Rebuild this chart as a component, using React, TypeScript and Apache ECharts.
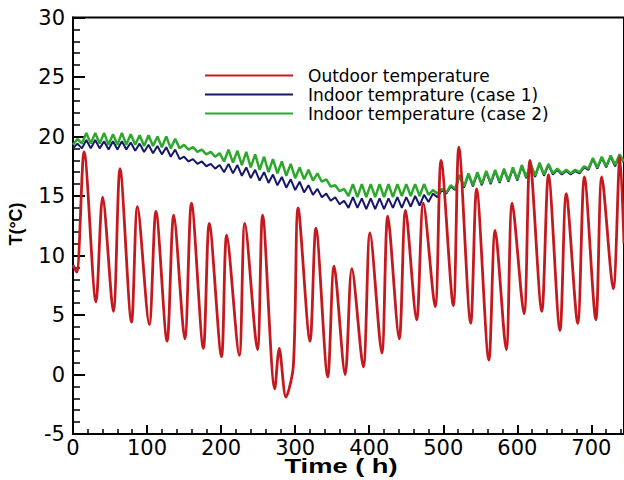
import { useEffect, useRef } from "react";
import * as echarts from "echarts";

// Outdoor temperature: daily extremes (h, °C)
const outdoorTime = [0, 5, 15, 31, 40, 54.5, 63.5, 79, 87, 103, 112, 127, 136, 151, 160, 176, 184, 200.5, 207.5, 224.5, 232, 249, 256, 272.5, 278.5, 287.5, 297.5, 304, 320, 328, 344, 352.5, 367.5, 376.5, 392, 401, 417, 425, 440.5, 449, 464, 473, 489, 497, 513.5, 521, 537, 545, 561.5, 570, 585, 593, 609, 617, 633, 642, 657.5, 666, 681.5, 690.5, 706, 714, 729.5, 738.5, 744];
const outdoorTemp = [9.2, 8.6, 18.7, 6.1, 14.9, 5.3, 17.3, 4.4, 14.1, 4.2, 13.7, 2.8, 13.4, 3.0, 14.4, 2.2, 12.7, 1.5, 11.7, 1.6, 12.7, 2.1, 13.4, -1.2, 2.2, -1.9, 0.7, 14.0, 2.8, 12.3, -0.2, 9.1, 0.0, 8.9, 0.65, 11.9, 1.8, 13.3, 3.0, 13.8, 4.6, 14.4, 5.7, 18.0, 5.8, 19.1, 4.3, 15.6, 1.2, 12.1, 2.1, 14.4, 5.1, 18.0, 5.3, 16.8, 3.7, 15.2, 4.3, 16.6, 4.6, 16.6, 7.2, 18.3, 11.0];

// Indoor temperatures, read every 6 h (h, °C)
const indoorTime = [
  0, 6, 12, 18, 24, 30, 36, 42, 48, 54, 60, 66,
  72, 78, 84, 90, 96, 102, 108, 114, 120, 126, 132, 138,
  144, 150, 156, 162, 168, 174, 180, 186, 192, 198, 204, 210,
  216, 222, 228, 234, 240, 246, 252, 258, 264, 270, 276, 282,
  288, 294, 300, 306, 312, 318, 324, 330, 336, 342, 348, 354,
  360, 366, 372, 378, 384, 390, 396, 402, 408, 414, 420, 426,
  432, 438, 444, 450, 456, 462, 468, 474, 480, 486, 492, 498,
  504, 510, 516, 522, 528, 534, 540, 546, 552, 558, 564, 570,
  576, 582, 588, 594, 600, 606, 612, 618, 624, 630, 636, 642,
  648, 654, 660, 666, 672, 678, 684, 690, 696, 702, 708, 714,
  720, 726, 732, 738, 744,
];
const case1Temp = [
  19.0, 19.4, 19.0, 19.7, 19.0, 19.7, 19.0, 19.6, 18.9, 19.6, 18.9, 19.6,
  18.9, 19.5, 18.8, 19.4, 18.7, 19.3, 18.6, 19.2, 18.5, 19.1, 18.3, 18.9,
  18.1, 18.3, 17.9, 18.1, 17.7, 17.9, 17.5, 17.7, 17.3, 17.6, 17.0, 17.7,
  16.9, 17.6, 16.7, 17.4, 16.5, 17.2, 16.3, 17.0, 16.1, 16.8, 15.9, 16.6,
  15.7, 16.4, 15.5, 16.2, 15.3, 15.9, 15.1, 15.6, 14.9, 15.2, 14.6, 14.9,
  14.3, 14.6, 14.0, 14.9, 14.0, 14.8, 13.9, 14.8, 13.9, 14.8, 13.9, 14.8,
  14.0, 14.9, 14.0, 14.9, 14.1, 15.0, 14.2, 15.1, 14.5, 15.2, 14.9, 15.5,
  15.2, 15.8, 15.5, 16.7, 15.7, 16.8, 15.8, 16.9, 15.9, 17.0, 16.0, 17.1,
  16.1, 17.2, 16.2, 17.3, 16.3, 17.5, 16.5, 17.6, 16.6, 17.7, 16.7, 17.6,
  16.8, 17.2, 16.8, 17.1, 16.8, 17.1, 16.9, 17.4, 17.2, 18.1, 17.3, 18.2,
  17.4, 18.3, 17.5, 18.4, 17.8,
];
const case2Temp = [
  19.3, 19.8, 19.4, 20.3, 19.4, 20.3, 19.4, 20.3, 19.3, 20.2, 19.3, 20.3,
  19.3, 20.2, 19.3, 20.1, 19.2, 20.1, 19.2, 20.0, 19.1, 20.0, 19.0, 19.8,
  19.0, 19.3, 18.9, 19.1, 18.7, 18.9, 18.5, 18.7, 18.3, 18.6, 17.9, 18.9,
  17.8, 18.8, 17.6, 18.7, 17.4, 18.5, 17.2, 18.3, 17.0, 18.1, 16.9, 17.9,
  16.7, 17.7, 16.5, 17.4, 16.4, 17.2, 16.3, 16.9, 16.2, 16.4, 15.8, 15.9,
  15.4, 15.6, 15.0, 16.0, 14.9, 16.0, 14.9, 16.0, 14.9, 16.0, 14.9, 16.0,
  14.9, 16.0, 15.0, 16.0, 15.0, 16.0, 15.0, 16.0, 15.1, 15.5, 15.2, 15.6,
  15.3, 15.9, 15.6, 16.8, 15.8, 16.9, 15.9, 17.0, 16.0, 17.1, 16.1, 17.2,
  16.2, 17.3, 16.3, 17.4, 16.4, 17.6, 16.6, 17.7, 16.7, 17.8, 16.8, 17.7,
  16.9, 17.3, 16.9, 17.2, 16.9, 17.2, 17.0, 17.5, 17.3, 18.2, 17.4, 18.3,
  17.5, 18.4, 17.6, 18.5, 17.9,
];

const seriesNames = [
  "Outdoor temperature",
  "Indoor temprature (case 1)",
  "Indoor temperature (case 2)",
];
const xTitle = "Time ( h)";
const yTitle = "T(°C)";

const pairs = (xs: number[], ys: number[]) => xs.map((x, i) => [x, ys[i]]);

export default function App() {
  const ref = useRef<HTMLDivElement>(null);
  useEffect(() => {
    if (!ref.current) return;
    const chart = echarts.init(ref.current, undefined, { renderer: "svg" });
    const labelFont = { fontFamily: "DejaVu Sans", fontSize: 21, color: "#000" };
    chart.setOption({
      animation: false,
      backgroundColor: "#ffffff",
      grid: {
        left: 73,
        right: 0,
        top: 17.5,
        bottom: 46,
        show: true,
        borderColor: "#000",
        borderWidth: 2,
      },
      legend: {
        data: seriesNames,
        orient: "vertical",
        left: 200,
        top: 61,
        icon: "rect",
        itemWidth: 88,
        itemHeight: 2,
        itemGap: 0,
        textStyle: {
          fontFamily: "DejaVu Sans",
          fontSize: 17,
          lineHeight: 19,
          color: "#000",
          padding: [0, 0, 0, 10],
        },
      },
      xAxis: [
        {
          type: "value",
          min: 0,
          max: 744,
          interval: 100,
          axisLine: { onZero: false, lineStyle: { color: "#000", width: 2 } },
          axisTick: { inside: true, length: 9, lineStyle: { color: "#000", width: 2 } },
          axisLabel: { ...labelFont, margin: 3, showMaxLabel: false },
          splitLine: { show: false },
        },
        {
          type: "value",
          position: "bottom",
          min: 0,
          max: 744,
          interval: 20,
          axisLine: { show: false, onZero: false },
          axisTick: { inside: true, length: 5, lineStyle: { color: "#000", width: 1.5 } },
          axisLabel: { show: false },
          splitLine: { show: false },
        },
      ],
      yAxis: {
        type: "value",
        min: -5,
        max: 30,
        interval: 5,
        axisLine: { onZero: false, lineStyle: { color: "#000", width: 2 } },
        axisTick: { inside: true, length: 12, lineStyle: { color: "#000", width: 2 } },
        minorTick: { show: true, splitNumber: 5, length: 7, lineStyle: { color: "#000", width: 1.5 } },
        axisLabel: { ...labelFont, margin: 8 },
        splitLine: { show: false },
      },
      graphic: [
        {
          type: "text",
          x: 341,
          y: 466,
          scaleX: 1.3,
          style: {
            text: xTitle,
            font: "bold 21px 'Liberation Sans'",
            fill: "#000",
            textAlign: "center",
            textVerticalAlign: "middle",
          },
        },
        {
          type: "text",
          x: 16,
          y: 224,
          rotation: Math.PI / 2,
          style: {
            text: yTitle,
            font: "bold 18px 'Liberation Sans'",
            fill: "#000",
            textAlign: "center",
            textVerticalAlign: "middle",
          },
        },
      ],
      series: [
        {
          name: seriesNames[1],
          type: "line",
          symbol: "none",
          data: pairs(indoorTime, case1Temp),
          lineStyle: { color: "#16166a", width: 2 },
          itemStyle: { color: "#16166a" },
        },
        {
          name: seriesNames[2],
          type: "line",
          symbol: "none",
          data: pairs(indoorTime, case2Temp),
          lineStyle: { color: "#2ca82c", width: 2.5 },
          itemStyle: { color: "#2ca82c" },
        },
        {
          name: seriesNames[0],
          type: "line",
          symbol: "none",
          smooth: 0.3,
          data: pairs(outdoorTime, outdoorTemp),
          lineStyle: { color: "#c41a1f", width: 2.8 },
          itemStyle: { color: "#c41a1f" },
        },
      ],
    });
    return () => chart.dispose();
  }, []);
  return (
    <div
      ref={ref}
      style={{ position: "fixed", left: 0, top: 0, width: 624, height: 480 }}
    />
  );
}
